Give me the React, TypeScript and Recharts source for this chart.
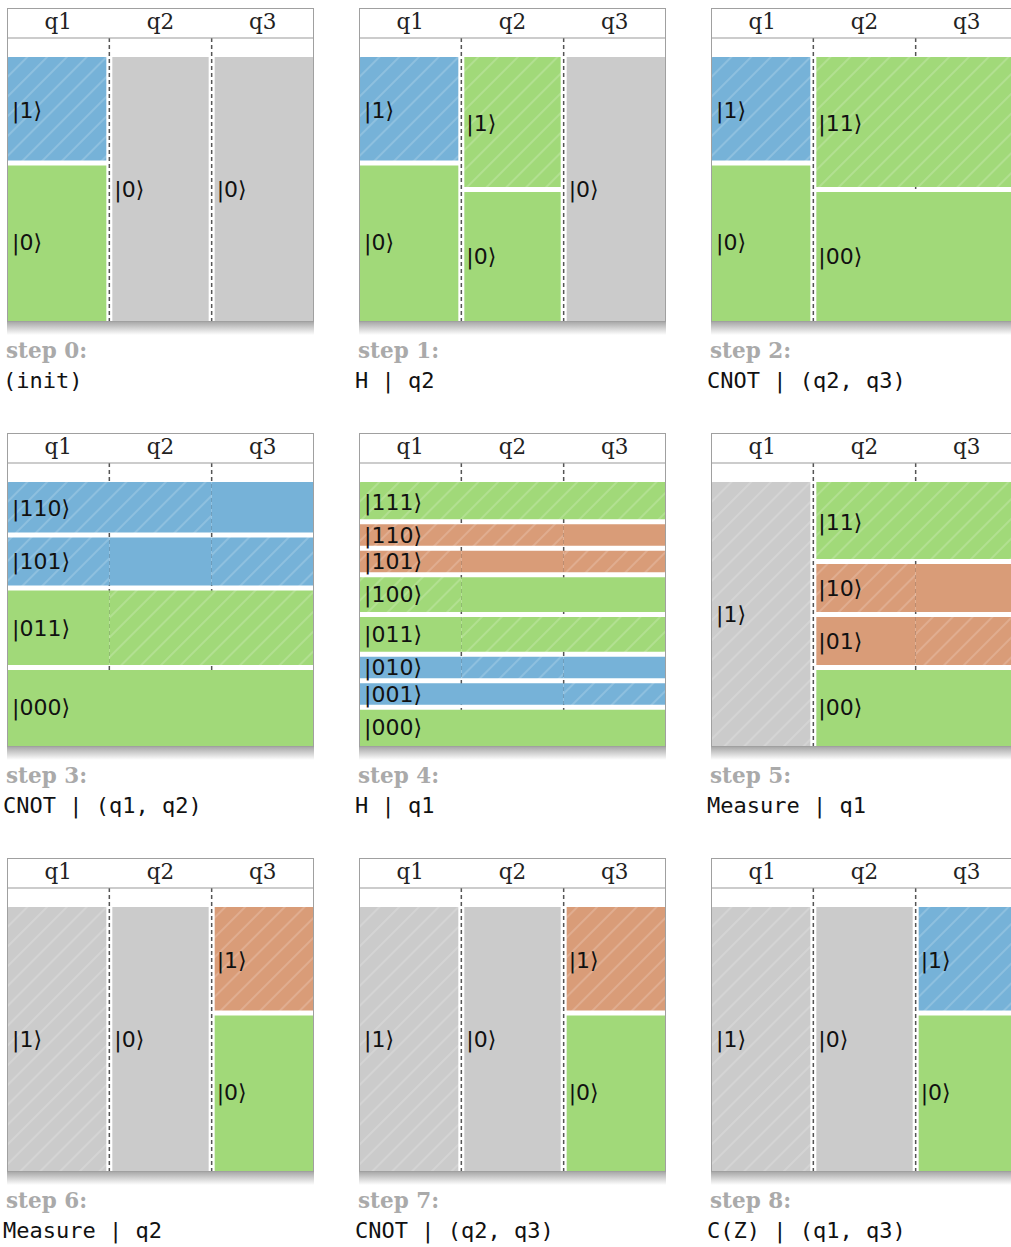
import React from 'react';
import { ComposedChart, XAxis, YAxis, CartesianGrid, ReferenceArea } from 'recharts';

type Tone = 'blue' | 'green' | 'orange' | 'gray';
type State = { ket: string; p: number; tone: Tone };
type Block = { from: number; to: number; states: State[] };

const QUBITS = ['q1', 'q2', 'q3'];
const QUBIT_TICKS = [0.5, 1.5, 2.5];
const DIVIDERS = [1, 2];

const STEP_TITLES = ['step 0:', 'step 1:', 'step 2:', 'step 3:', 'step 4:', 'step 5:', 'step 6:', 'step 7:', 'step 8:'];
const STEP_OPS = [
  '(init)',
  'H | q2',
  'CNOT | (q2, q3)',
  'CNOT | (q1, q2)',
  'H | q1',
  'Measure | q1',
  'Measure | q2',
  'CNOT | (q2, q3)',
  'C(Z) | (q1, q3)',
];

// states are listed top to bottom, p = probability
const q1Super: State[] = [{ ket: '1', p: 0.4, tone: 'blue' }, { ket: '0', p: 0.6, tone: 'green' }];
const q1Measured: State[] = [{ ket: '1', p: 1, tone: 'gray' }];
const zeroGray: State[] = [{ ket: '0', p: 1, tone: 'gray' }];
const q2Hadamard: State[] = [{ ket: '1', p: 0.5, tone: 'green' }, { ket: '0', p: 0.5, tone: 'green' }];
const q23Bell: State[] = [{ ket: '11', p: 0.5, tone: 'green' }, { ket: '00', p: 0.5, tone: 'green' }];
const step3States: State[] = [
  { ket: '110', p: 0.2, tone: 'blue' },
  { ket: '101', p: 0.2, tone: 'blue' },
  { ket: '011', p: 0.3, tone: 'green' },
  { ket: '000', p: 0.3, tone: 'green' },
];
const step4States: State[] = [
  { ket: '111', p: 0.15, tone: 'green' },
  { ket: '110', p: 0.1, tone: 'orange' },
  { ket: '101', p: 0.1, tone: 'orange' },
  { ket: '100', p: 0.15, tone: 'green' },
  { ket: '011', p: 0.15, tone: 'green' },
  { ket: '010', p: 0.1, tone: 'blue' },
  { ket: '001', p: 0.1, tone: 'blue' },
  { ket: '000', p: 0.15, tone: 'green' },
];
const step5States: State[] = [
  { ket: '11', p: 0.3, tone: 'green' },
  { ket: '10', p: 0.2, tone: 'orange' },
  { ket: '01', p: 0.2, tone: 'orange' },
  { ket: '00', p: 0.3, tone: 'green' },
];
const q3Orange: State[] = [{ ket: '1', p: 0.4, tone: 'orange' }, { ket: '0', p: 0.6, tone: 'green' }];
const q3Blue: State[] = [{ ket: '1', p: 0.4, tone: 'blue' }, { ket: '0', p: 0.6, tone: 'green' }];

const STEPS: Block[][] = [
  [{ from: 0, to: 1, states: q1Super }, { from: 1, to: 2, states: zeroGray }, { from: 2, to: 3, states: zeroGray }],
  [{ from: 0, to: 1, states: q1Super }, { from: 1, to: 2, states: q2Hadamard }, { from: 2, to: 3, states: zeroGray }],
  [{ from: 0, to: 1, states: q1Super }, { from: 1, to: 3, states: q23Bell }],
  [{ from: 0, to: 3, states: step3States }],
  [{ from: 0, to: 3, states: step4States }],
  [{ from: 0, to: 1, states: q1Measured }, { from: 1, to: 3, states: step5States }],
  [{ from: 0, to: 1, states: q1Measured }, { from: 1, to: 2, states: zeroGray }, { from: 2, to: 3, states: q3Orange }],
  [{ from: 0, to: 1, states: q1Measured }, { from: 1, to: 2, states: zeroGray }, { from: 2, to: 3, states: q3Orange }],
  [{ from: 0, to: 1, states: q1Measured }, { from: 1, to: 2, states: zeroGray }, { from: 2, to: 3, states: q3Blue }],
];

const COLORS: Record<Tone, string> = {
  blue: '#76b2d8',
  green: '#a1d979',
  orange: '#d99c78',
  gray: '#cbcbcb',
};

const PANEL_W = 307;
const HEADER_H = 30;
const GAP_H = 19;
const PLOT_H = 265;
const CHART_H = HEADER_H + GAP_H + PLOT_H;
const COL_X = [7, 359, 711];
const ROW_Y = [8, 433, 858];
const HATCH = 14;

type Edges = { l: boolean; r: boolean; t: boolean; b: boolean };

const insetShape = (e: Edges) => (props: any) => {
  const { x, y, width, height, fill } = props;
  const l = e.l ? 3 : 0;
  const r = e.r ? 3 : 0;
  const t = e.t ? 2.5 : 0;
  const b = e.b ? 2.5 : 0;
  return <rect x={x + l} y={y + t} width={Math.max(0, width - l - r)} height={Math.max(0, height - t - b)} fill={fill} />;
};

function Panel({ idx }: { idx: number }) {
  const blocks = STEPS[idx];
  const left = COL_X[idx % 3];
  const top = ROW_Y[Math.floor(idx / 3)];
  const areas: React.ReactNode[] = [];
  const rows: { x: number; y: number }[] = [];

  blocks.forEach((blk, bi) => {
    let acc = 1;
    blk.states.forEach((s, si) => {
      const y2 = acc;
      const y1 = Math.max(0, Math.round((acc - s.p) * 1e6) / 1e6);
      acc = y1;
      rows.push({ x: blk.from, y: y1 }, { x: blk.to, y: y2 });
      const t = si > 0;
      const b = si < blk.states.length - 1;
      // split into runs: hatched where the qubit bit is 1
      const bits = s.ket.split('');
      let i = 0;
      let first = true;
      while (i < bits.length) {
        const hatched = bits[i] === '1';
        let j = i;
        while (j < bits.length && (bits[j] === '1') === hatched) j++;
        const edges = { l: i === 0 && blk.from > 0, r: j === bits.length && blk.to < 3, t, b };
        areas.push(
          <ReferenceArea
            key={`${bi}-${si}-${i}`}
            x1={blk.from + i}
            x2={blk.from + j}
            y1={y1}
            y2={y2}
            fill={hatched ? `url(#hatch-${idx}-${s.tone})` : COLORS[s.tone]}
            fillOpacity={1}
            stroke="none"
            ifOverflow="visible"
            shape={insetShape(edges)}
            label={
              first
                ? { value: `|${s.ket}⟩`, position: 'insideLeft', offset: 5, fill: '#111', fontSize: 22, fontFamily: 'DejaVu Sans' }
                : undefined
            }
          />
        );
        first = false;
        i = j;
      }
    });
  });

  return (
    <>
      <div style={{ position: 'absolute', left, top }}>
        <ComposedChart width={PANEL_W} height={CHART_H} data={rows} margin={{ top: 0, right: 0, bottom: 0, left: 0 }}>
          <defs>
            {(Object.keys(COLORS) as Tone[]).map((tone) => (
              <pattern
                key={tone}
                id={`hatch-${idx}-${tone}`}
                patternUnits="userSpaceOnUse"
                width={HATCH}
                height={HATCH}
                patternTransform="rotate(45)"
              >
                <rect width={HATCH} height={HATCH} fill={COLORS[tone]} />
                <line x1={HATCH / 2} y1={0} x2={HATCH / 2} y2={HATCH} stroke="#ffffff" strokeOpacity={0.35} strokeWidth={1} />
              </pattern>
            ))}
          </defs>
          <XAxis
            dataKey="x"
            type="number"
            orientation="top"
            domain={[0, 3]}
            allowDataOverflow
            ticks={QUBIT_TICKS}
            interval={0}
            height={HEADER_H}
            tickSize={0}
            tickMargin={9}
            axisLine={{ stroke: '#999', strokeWidth: 1 }}
            tickLine={false}
            tick={(p: any) => (
              <text x={p.x} y={p.y} textAnchor="middle" fontFamily="DejaVu Serif" fontSize={21.5} fill="#222">
                {QUBITS[Math.floor(p.payload.value)]}
              </text>
            )}
          />
          <YAxis dataKey="y" type="number" domain={[0, 1 + GAP_H / PLOT_H]} hide allowDataOverflow />
          <CartesianGrid
            horizontal={false}
            verticalValues={DIVIDERS}
            stroke="#555"
            strokeWidth={1.5}
            strokeDasharray="4 3"
          />
          {areas}
        </ComposedChart>
      </div>
      <div
        style={{
          position: 'absolute',
          left,
          top,
          width: PANEL_W,
          height: CHART_H,
          boxSizing: 'border-box',
          border: '1px solid #a0a0a0',
          pointerEvents: 'none',
        }}
      />
      <div
        style={{
          position: 'absolute',
          left,
          top: top + CHART_H,
          width: PANEL_W,
          height: 13,
          background: 'linear-gradient(#a9a9a9, rgba(255,255,255,0))',
        }}
      />
      <div
        style={{
          position: 'absolute',
          left: left - 1,
          top: top + 332,
          fontFamily: 'DejaVu Serif',
          fontWeight: 'bold',
          fontSize: 21.5,
          lineHeight: '21.5px',
          color: '#aaaaaa',
          whiteSpace: 'pre',
        }}
      >
        {STEP_TITLES[idx]}
      </div>
      <div
        style={{
          position: 'absolute',
          left: left - 4,
          top: top + 362,
          fontFamily: 'DejaVu Sans Mono',
          fontSize: 22,
          lineHeight: '22px',
          color: '#111',
          whiteSpace: 'pre',
        }}
      >
        {STEP_OPS[idx]}
      </div>
    </>
  );
}

export default function App() {
  return (
    <div
      style={{
        position: 'absolute',
        left: 0,
        top: 0,
        width: 1011,
        height: 1247,
        overflow: 'hidden',
        background: '#fff',
      }}
    >
      {STEPS.map((_, i) => (
        <Panel key={i} idx={i} />
      ))}
    </div>
  );
}
